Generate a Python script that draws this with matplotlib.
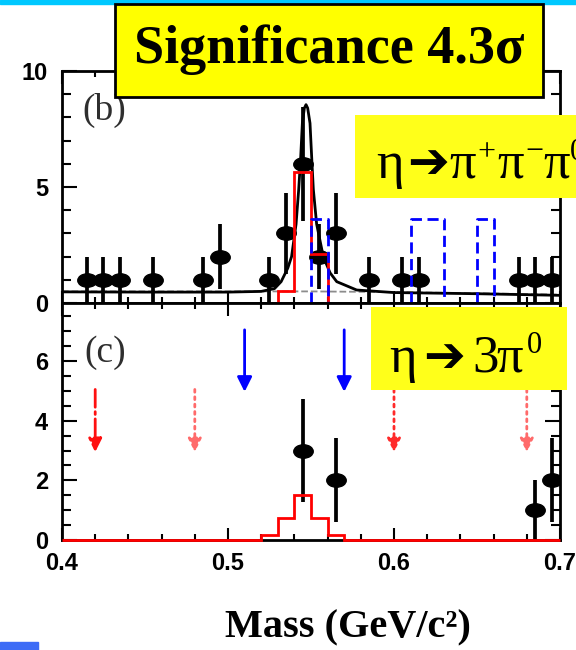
import numpy as np
import matplotlib
matplotlib.use('Agg')
import matplotlib.pyplot as plt
from matplotlib.path import Path
from matplotlib.transforms import Affine2D
from matplotlib.patches import Rectangle
from matplotlib.ticker import MultipleLocator

# ---- data ----
# panel (b): eta -> pi+ pi- pi0
b_mass = [0.415, 0.425, 0.435, 0.455, 0.485, 0.495, 0.525, 0.535, 0.545,
          0.555, 0.565, 0.585, 0.605, 0.615, 0.675, 0.685, 0.695]
b_counts = [1, 1, 1, 1, 1, 2, 1, 3, 6, 2, 3, 1, 1, 1, 1, 1, 1]
b_err = [1, 1, 1, 1, 1, 1.41, 1, 1.73, 2.45, 1.41, 1.73, 1, 1, 1, 1, 1, 1]

fit_mass = [0.400, 0.450, 0.500, 0.520, 0.528, 0.532, 0.536, 0.5383, 0.541,
            0.5426, 0.5438, 0.5448, 0.546, 0.547, 0.548, 0.5494, 0.5504,
            0.5514, 0.5534, 0.5574, 0.5615, 0.5655, 0.5775, 0.600, 0.650, 0.700]
fit_vals = [0.48, 0.47, 0.47, 0.50, 0.62, 0.92, 1.5, 2.0, 3.4,
            4.9, 6.3, 7.75, 8.4, 8.55, 8.4, 7.75, 6.3,
            4.9, 3.4, 2.0, 1.3, 0.92, 0.56, 0.45, 0.40, 0.33]
bkg_mass = [0.40, 0.55, 0.60, 0.65, 0.70]
bkg_vals = [0.50, 0.50, 0.47, 0.42, 0.36]

b_mc_edges = [0.53, 0.54, 0.55, 0.56]
b_mc_vals = [0.5, 5.65, 2.1]

blue_lo = [0.55, 0.61, 0.65]
blue_hi = [0.56, 0.63, 0.66]
blue_h = [3.6, 3.6, 3.6]

# panel (c): eta -> 3 pi0
c_mass = [0.545, 0.565, 0.685, 0.695]
c_counts = [3, 2, 1, 2]
c_err = [1.73, 1.41, 1, 1.41]

c_mc_edges = [0.40, 0.52, 0.53, 0.54, 0.55, 0.56, 0.57, 0.70]
c_mc_vals = [0, 0.17, 0.73, 1.5, 0.73, 0.16, 0]

blue_arrows = [0.51, 0.57]
red_arrows = [0.42, 0.48, 0.60, 0.68]
red_styles = ['-.', ':', ':', ':']
red_colors = ['#ff1010', '#ff6a6a', '#ff2a2a', '#ff6a6a']

W, H = 576, 650
fig = plt.figure(figsize=(W / 100, H / 100), dpi=100)

ax1 = fig.add_axes([62 / W, 1 - 303 / H, 498 / W, 232 / H])
ax2 = fig.add_axes([62 / W, 1 - 540 / H, 498 / W, 237 / H])

ell = Path.unit_circle().transformed(Affine2D().scale(1.45, 1.0))
tickfont = dict(family='Liberation Sans', weight='bold', size=17)

# --- top panel ---
ax1.errorbar(b_mass, b_counts, yerr=b_err, fmt='none', ecolor='black',
             elinewidth=2.7, capsize=0, zorder=3)
ax1.plot(b_mass, b_counts, ls='none', marker=ell, ms=14, color='black', zorder=4)
ax1.plot(bkg_mass, bkg_vals, color='0.55', lw=1.3, ls='--', zorder=2)
ax1.plot(fit_mass, fit_vals, color='black', lw=2, zorder=5)
ax1.stairs(b_mc_vals, b_mc_edges, baseline=0, color='red', lw=2, zorder=6)
for lo, hi, h in zip(blue_lo, blue_hi, blue_h):
    ax1.plot([lo, lo, hi, hi], [0, h, h, 0], color='blue', lw=2,
             dashes=(4, 2), zorder=6)
ax1.set_xlim(0.4, 0.7)
ax1.set_ylim(0, 10)
ax1.set_yticks([0, 5, 10])
ax1.yaxis.set_minor_locator(MultipleLocator(1))
ax1.set_xticks([0.4, 0.5, 0.6, 0.7])
ax1.xaxis.set_minor_locator(MultipleLocator(0.02))
ax1.set_xticklabels([])
ax1.text(0.4125, 8.3, '(b)', family='Liberation Serif', size=27, color='#2e2e2e',
         va='center')

# --- bottom panel ---
ax2.stairs(c_mc_vals, c_mc_edges, baseline=None, color='red', lw=2, zorder=6,
           clip_on=False)
ax2.errorbar(c_mass, c_counts, yerr=c_err, fmt='none', ecolor='black',
             elinewidth=2.7, capsize=0, zorder=3)
ax2.plot(c_mass, c_counts, ls='none', marker=ell, ms=14, color='black', zorder=4)
for x in blue_arrows:
    ax2.annotate('', xy=(x, 4.97), xytext=(x, 7.05),
                 arrowprops=dict(arrowstyle='-|>', color='blue', lw=2,
                                 mutation_scale=22, shrinkA=0, shrinkB=0))
for x, ls, c in zip(red_arrows, red_styles, red_colors):
    ax2.annotate('', xy=(x, 2.95), xytext=(x, 5.05),
                 arrowprops=dict(arrowstyle='-|>', color=c, lw=2, ls=ls,
                                 mutation_scale=20, shrinkA=0, shrinkB=0))
ax2.set_xlim(0.4, 0.7)
ax2.set_ylim(0, 7.95)
ax2.set_yticks([0, 2, 4, 6])
ax2.yaxis.set_minor_locator(MultipleLocator(0.5))
ax2.set_xticks([0.4, 0.5, 0.6, 0.7])
ax2.set_xticklabels(['0.4', '0.5', '0.6', '0.7'])
ax2.xaxis.set_minor_locator(MultipleLocator(0.02))
ax2.text(0.4135, 6.3, '(c)', family='Liberation Serif', size=27, color='#2e2e2e',
         va='center')

for ax in (ax1, ax2):
    for s in ax.spines.values():
        s.set_linewidth(2)
    ax.tick_params(which='both', direction='in', top=True, right=True, width=1.5)
    ax.tick_params(axis='y', which='major', length=11, pad=10)
    ax.tick_params(axis='y', which='minor', length=6.5)
    ax.tick_params(axis='x', which='major', length=9, pad=9)
    ax.tick_params(axis='x', which='minor', length=4)
    for lab in ax.get_xticklabels() + ax.get_yticklabels():
        lab.set(**tickfont)

# --- decorations ---
fig.add_artist(Rectangle((0, 1 - 4 / H), 1, 4 / H, transform=fig.transFigure,
                         color='#00c8ff', zorder=10))
fig.add_artist(Rectangle((0, 0), 38 / W, 8 / H, transform=fig.transFigure,
                         color='#3d6cf6', zorder=10))
fig.add_artist(Rectangle((115 / W, 1 - 97 / H), 428 / W, 93 / H,
                         transform=fig.transFigure, facecolor='#ffff00',
                         edgecolor='black', lw=2, zorder=10))
fig.add_artist(Rectangle((355 / W, 1 - 198 / H), 240 / W, 83 / H,
                         transform=fig.transFigure, facecolor='#ffff1a',
                         edgecolor='none', zorder=10))
fig.add_artist(Rectangle((371 / W, 1 - 390 / H), 196 / W, 83 / H,
                         transform=fig.transFigure, facecolor='#ffff1a',
                         edgecolor='none', zorder=10))

fig.text(329 / W, 1 - 50 / H, 'Significance 4.3σ', family='Liberation Serif',
         weight='bold', size=39, ha='center', va='center', zorder=11)


def label_pieces(pieces, base_y):
    # each piece: text, left x in px, raise in px, font size
    for s, x, dy, size in pieces:
        fig.text(x / W, 1 - (base_y - dy) / H, s,
                 family=['Liberation Serif', 'DejaVu Sans'], size=size,
                 ha='left', va='baseline', zorder=11)


label_pieces([('η', 376, 0, 38), ('➔', 407, 0, 36), ('π', 449, 0, 38),
              ('+', 477, 18, 23), ('π', 497, 0, 38), ('−', 525, 18, 23),
              ('π', 543, 0, 38), ('0', 570, 18, 22)], 178)
label_pieces([('η', 389, 0, 38), ('➔', 423, 0, 36), ('3', 472, 0, 38),
              ('π', 496, 0, 38), ('0', 527, 19, 22)], 372)

fig.text(348 / W, 1 - 628 / H, 'Mass (GeV/c²)', family='Liberation Serif',
         weight='bold', size=29, ha='center', va='center', zorder=11)

fig.savefig('out.png', dpi=100, facecolor='white')
